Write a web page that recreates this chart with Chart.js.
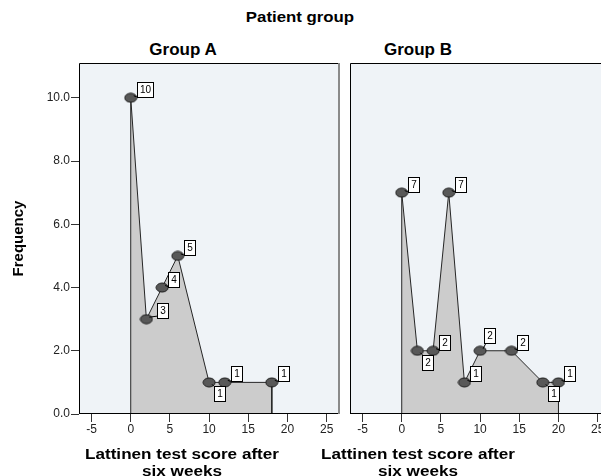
<!DOCTYPE html>
<html lang="en">
<head>
<meta charset="UTF-8">
<title>Lattinen test score after six weeks by patient group</title>
<script src="https://cdn.jsdelivr.net/npm/chart.js"></script>
<style>
  html, body { margin: 0; padding: 0; background: #fff; overflow: hidden; }
  body { width: 601px; height: 476px; position: relative; font-family: Arial, "Liberation Sans", sans-serif; }
  canvas { position: absolute; top: 0; }
  #chartA { left: 0; }
  #chartB { left: 345px; }
  .lbl { position: absolute; font-weight: bold; color: #000; white-space: nowrap; text-align: center; line-height: 1; }
  .main { top: 10px; left: 300px; font-size: 14px; transform: translateX(-50%) scaleX(1.2); }
  .panel { top: 41px; font-size: 17px; transform: translateX(-50%); }
  .xtitle { top: 446px; font-size: 14.5px; line-height: 17px; transform: translateX(-50%) scaleX(1.18); }
</style>
</head>
<body>
<div class="lbl main">Patient group</div>
<div class="lbl panel" style="left:183px">Group A</div>
<div class="lbl panel" style="left:418px">Group B</div>
<canvas id="chartA" width="345" height="476"></canvas>
<canvas id="chartB" width="271" height="476"></canvas>
<div class="lbl xtitle" style="left:182px">Lattinen test score after<br>six weeks</div>
<div class="lbl xtitle" style="left:418px">Lattinen test score after<br>six weeks</div>

<script>
// data
const groupAScores = [0, 2, 4, 6, 10, 12, 18];
const groupAFreq   = [10, 3, 4, 5, 1, 1, 1];
const groupBScores = [0, 2, 4, 6, 8, 10, 14, 18, 20];
const groupBFreq   = [7, 2, 2, 7, 1, 2, 2, 1, 1];
const xTickValues  = [-5, 0, 5, 10, 15, 20, 25];
const yTickValues  = [0, 2, 4, 6, 8, 10];

// where each value box sits next to its point
const groupALabelPos = ['ur', 'urFar', 'ur', 'ur', 'dr', 'ur', 'ur'];
const groupBLabelPos = ['ur', 'dr', 'ur', 'ur', 'ur', 'urHigh', 'ur', 'dr', 'ur'];

// ellipse marker like the SPSS one
function makeMarker() {
    const c = document.createElement('canvas');
    c.width = 14; c.height = 11;
    const ctx = c.getContext('2d');
    ctx.beginPath();
    ctx.ellipse(7, 5.5, 6, 4.5, 0, 0, Math.PI * 2);
    ctx.fillStyle = '#585858';
    ctx.fill();
    ctx.lineWidth = 1;
    ctx.strokeStyle = '#1a1a1a';
    ctx.stroke();
    return c;
}
const marker = makeMarker();

const panelPlugin = {
    id: 'panel',
    beforeDraw(chart) {
        const { ctx, chartArea: a } = chart;
        ctx.save();
        ctx.fillStyle = '#eff3f7';
        ctx.fillRect(a.left, a.top, a.right - a.left, a.bottom - a.top);
        ctx.restore();
    },
    afterDraw(chart) {
        const { ctx, chartArea: a } = chart;
        ctx.save();
        ctx.lineWidth = 1;
        ctx.strokeStyle = '#000';
        ctx.beginPath();
        ctx.moveTo(a.left + 0.5, a.bottom);
        ctx.lineTo(a.left + 0.5, a.top + 0.5);
        ctx.lineTo(a.right, a.top + 0.5);
        ctx.moveTo(a.left, a.bottom - 0.5);
        ctx.lineTo(a.right, a.bottom - 0.5);
        ctx.stroke();
        ctx.lineWidth = 2;
        ctx.strokeStyle = '#8a8a8a';
        ctx.beginPath();
        ctx.moveTo(a.right - 1, a.top);
        ctx.lineTo(a.right - 1, a.bottom);
        ctx.stroke();
        ctx.restore();
    }
};

const valueBoxPlugin = {
    id: 'valueBoxes',
    afterDatasetsDraw(chart, args, opts) {
        const { ctx } = chart;
        const meta = chart.getDatasetMeta(0);
        const values = chart.data.datasets[0].data;
        ctx.save();
        ctx.font = '10px Arial, "Liberation Sans", sans-serif';
        ctx.textAlign = 'center';
        ctx.textBaseline = 'middle';
        meta.data.forEach((pt, i) => {
            const txt = String(values[i].y);
            const w = Math.round(ctx.measureText(txt).width + 5);
            const h = 15;
            const pos = opts.placements[i];
            let left, top, cx, cy;
            if (pos === 'dr') {
                left = pt.x + 5; top = pt.y + 4; cx = left; cy = top;
            } else if (pos === 'urHigh') {
                left = pt.x + 4; top = pt.y - 8 - h; cx = left + 2; cy = top + h;
            } else if (pos === 'urFar') {
                left = pt.x + 11; top = pt.y - 1 - h; cx = left; cy = top + h - 2;
            } else {
                left = pt.x + 6; top = pt.y - 1 - h; cx = left; cy = top + h;
            }
            left = Math.round(left) + 0.5; top = Math.round(top) + 0.5;
            ctx.strokeStyle = '#000';
            ctx.lineWidth = 1;
            ctx.beginPath();
            ctx.moveTo(pt.x + 3, pt.y + (pos === 'dr' ? 2 : -2));
            ctx.lineTo(cx, cy);
            ctx.stroke();
            ctx.fillStyle = '#fff';
            ctx.fillRect(left, top, w, h);
            ctx.strokeRect(left, top, w, h);
            ctx.fillStyle = '#000';
            ctx.fillText(txt, left + w / 2, top + h / 2 + 0.5);
        });
        ctx.restore();
    }
};

function makeChart(id, scores, freq, placements, showY) {
    const points = scores.map((x, i) => ({ x: x, y: freq[i] }));
    const outline = [{ x: scores[0], y: 0 }].concat(points, [{ x: scores[scores.length - 1], y: 0 }]);
    const tickFont = { family: 'Arial, "Liberation Sans", sans-serif', size: 12 };
    return new Chart(document.getElementById(id), {
        type: 'scatter',
        data: {
            datasets: [{
                data: points,
                showLine: false,
                pointStyle: marker,
                order: 0
            }, {
                data: outline,
                showLine: true,
                fill: 'origin',
                backgroundColor: '#cccccc',
                borderColor: '#262626',
                borderWidth: 1,
                pointRadius: 0,
                tension: 0,
                order: 1
            }]
        },
        options: {
            responsive: false,
            animation: false,
            events: [],
            layout: { padding: { top: 63, right: 5, bottom: 0, left: showY ? 0 : 5 } },
            plugins: {
                legend: { display: false },
                tooltip: { enabled: false },
                valueBoxes: { placements: placements }
            },
            scales: {
                x: {
                    type: 'linear',
                    min: -6.6,
                    max: 26.7,
                    afterBuildTicks: s => { s.ticks = xTickValues.map(v => ({ value: v })); },
                    afterFit: s => { s.height = 62; },
                    grid: { drawOnChartArea: false, drawTicks: true, tickLength: 8, color: '#333' },
                    border: { display: false },
                    ticks: { font: tickFont, color: '#222', padding: 0, maxRotation: 0 }
                },
                y: {
                    display: showY,
                    min: 0,
                    max: 11.1,
                    afterBuildTicks: s => { s.ticks = yTickValues.map(v => ({ value: v })); },
                    afterFit: s => { s.width = showY ? 79 : 0; },
                    grid: { drawOnChartArea: false, drawTicks: true, tickLength: 8, color: '#333' },
                    border: { display: false },
                    ticks: { font: tickFont, color: '#222', padding: 1, callback: v => Number(v).toFixed(1) },
                    title: {
                        display: true,
                        text: 'Frequency',
                        color: '#000',
                        font: { family: 'Arial, "Liberation Sans", sans-serif', size: 15, weight: 'bold' },
                        padding: { top: 10, bottom: 0 }
                    }
                }
            }
        },
        plugins: [panelPlugin, valueBoxPlugin]
    });
}

makeChart('chartA', groupAScores, groupAFreq, groupALabelPos, true);
makeChart('chartB', groupBScores, groupBFreq, groupBLabelPos, false);
</script>
</body>
</html>
